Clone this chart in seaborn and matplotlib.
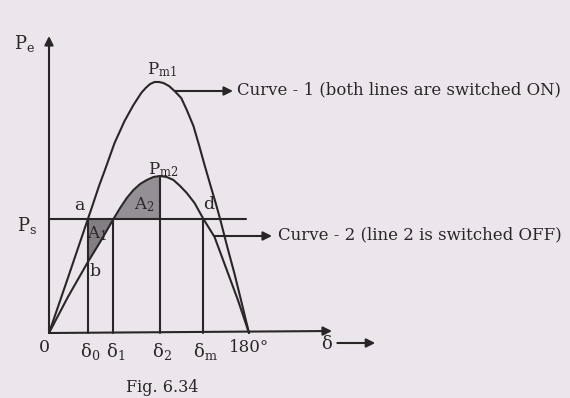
import matplotlib
matplotlib.use("Agg")
import matplotlib.pyplot as plt
import numpy as np
import pandas as pd
import seaborn as sns

# Power-angle curve with both lines in service (angle in degrees, power)
delta_on = [0, 17, 35, 39, 45, 50, 59, 68, 76, 83, 87, 91, 95, 99, 103, 108,
            113, 119, 124, 130, 135, 140, 146, 150, 154, 160, 167, 173, 180]
p_on = [0, 0.55, 1.14, 1.27, 1.47, 1.62, 1.90, 2.12, 2.28, 2.40, 2.45, 2.49,
        2.51, 2.51, 2.50, 2.47, 2.42, 2.35, 2.23, 2.07, 1.88, 1.68, 1.45,
        1.30, 1.14, 0.88, 0.59, 0.32, 0]

# Power-angle curve with line 2 switched off
delta_off = [0, 17, 35, 46, 58, 64, 70, 76, 82, 88, 94, 100, 106, 112, 118,
             124, 131, 139, 149, 159, 170, 180]
p_off = [0, 0.36, 0.71, 0.91, 1.14, 1.25, 1.35, 1.43, 1.49, 1.53, 1.56, 1.57,
         1.56, 1.53, 1.47, 1.40, 1.30, 1.14, 0.96, 0.66, 0.33, 0]

# Shaft power and the marked rotor angles
p_s = 1.14
ps_line_end = 177
mark_angles = [35, 58, 100, 139]
mark_heights = [1.14, 1.14, 1.57, 1.14]
mark_labels = [r"$\mathregular{δ_0}$", r"$\mathregular{δ_1}$",
               r"$\mathregular{δ_2}$", r"$\mathregular{δ_m}$"]

INK = "#2a2628"
BG = "#ede5ec"
SHADE = "#8a858c"

sns.set_theme(style="white")
plt.rcParams["font.family"] = ["DejaVu Serif"]
plt.rcParams["mathtext.fontset"] = "custom"
plt.rcParams["mathtext.rm"] = "DejaVu Serif"
plt.rcParams["mathtext.it"] = "DejaVu Serif:italic"

W, H = 570, 398
fig = plt.figure(figsize=(W / 100, H / 100), dpi=100, facecolor=BG)
ax = fig.add_axes([0, 0, 1, 1])
ax.set_facecolor(BG)
ax.set_xlim(-44.1, 468.9)
ax.set_ylim(-0.65, 3.33)
ax.axis("off")

df = pd.concat([
    pd.DataFrame({"delta": delta_on, "P": p_on, "curve": "on"}),
    pd.DataFrame({"delta": delta_off, "P": p_off, "curve": "off"}),
])
sns.lineplot(data=df, x="delta", y="P", hue="curve", units="curve",
             estimator=None, sort=False, palette={"on": INK, "off": INK},
             lw=1.5, legend=False, ax=ax)

# Shaded accelerating (A1) and decelerating (A2) areas
d_off = np.array(delta_off)
p_arr = np.array(p_off)
ax.fill_between(d_off, p_arr, p_s, where=(d_off >= mark_angles[0]) & (d_off <= mark_angles[1]),
                color="#716c72", lw=0, alpha=0.85)
ax.fill_between(d_off, p_s, p_arr, where=(d_off >= mark_angles[1]) & (d_off <= mark_angles[2]),
                color=SHADE, lw=0, alpha=0.9)

# Shaft power line and vertical angle markers
ax.plot([0, ps_line_end], [p_s, p_s], color=INK, lw=1.5)
for d, h in zip(mark_angles, mark_heights):
    ax.plot([d, d], [0, h], color=INK, lw=1.5)

# Axes with arrowheads
arrow = dict(arrowstyle="-|>", color=INK, lw=1.5, mutation_scale=13,
             shrinkA=0, shrinkB=0)
ax.annotate("", xy=(0, 2.97), xytext=(0, 0), arrowprops=arrow)
ax.annotate("", xy=(254.7, 0.02), xytext=(0, 0), arrowprops=arrow)

# Pointers to the curve captions
ax.annotate("", xy=(165.6, 2.42), xytext=(113.4, 2.42), arrowprops=arrow)
ax.annotate("", xy=(200.7, 0.97), xytext=(149.4, 0.97), arrowprops=arrow)

def ftext(x, y, s, **kw):
    kw.setdefault("fontsize", 12)
    kw.setdefault("color", INK)
    fig.text(x / W, 1 - y / H, s, **kw)

ftext(237, 90, "Curve - 1 (both lines are switched ON)", ha="left", va="center", fontsize=11.9)
ftext(278, 235, "Curve - 2 (line 2 is switched OFF)", ha="left", va="center", fontsize=12)

ftext(25, 44, r"$\mathregular{P_e}$", ha="center", va="center", fontsize=13)
ftext(162, 70, r"$\mathregular{P_{m1}}$", ha="center", va="center")
ftext(163, 170, r"$\mathregular{P_{m2}}$", ha="center", va="center")
ftext(27, 226, r"$\mathregular{P_s}$", ha="center", va="center", fontsize=13)
ftext(79, 206, "a", ha="center", va="center", fontsize=12.5)
ftext(95, 272, "b", ha="center", va="center", fontsize=12.5)
ftext(209, 205, "d", ha="center", va="center", fontsize=12.5)
ftext(97, 234, r"$\mathregular{A_1}$", ha="center", va="center")
ftext(144, 205, r"$\mathregular{A_2}$", ha="center", va="center")

# Angle axis labels
ax.text(-4, -0.15, "0", ha="center", va="center", fontsize=12.5, color=INK)
for d, lab in zip(mark_angles, mark_labels):
    ax.text(d + 2, -0.18, lab, ha="center", va="center", fontsize=13, color=INK)
ax.text(180, -0.15, "180°", ha="center", va="center", fontsize=12, color=INK)

ftext(327, 344, "δ", ha="center", va="center", fontsize=13)
ax.annotate("", xy=(293.6, -0.10), xytext=(259.5, -0.10), arrowprops=arrow)

ftext(162, 387, "Fig. 6.34", ha="center", va="center", fontsize=11.5)

fig.savefig("out.png", dpi=100, facecolor=BG)
